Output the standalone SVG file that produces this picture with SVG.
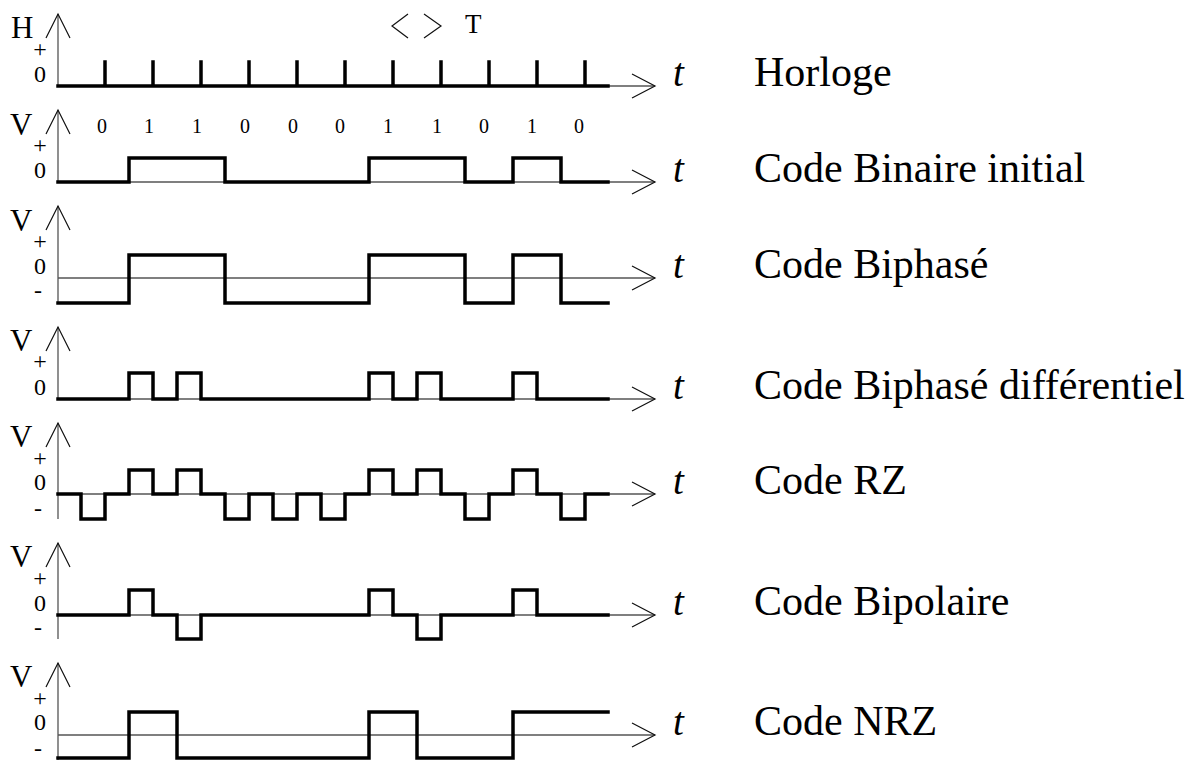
<svg xmlns="http://www.w3.org/2000/svg" width="1194" height="760" viewBox="0 0 1194 760">
  <style>
    .axis { fill: none; stroke: #555; stroke-width: 1.3; }
    .head { fill: none; stroke: #111; stroke-width: 1.2; }
    .sig { fill: none; stroke: #000; stroke-width: 3.5; stroke-linejoin: miter; stroke-linecap: square; }
    .txt { font-family: "Liberation Serif", "Times New Roman", serif; fill: #000; }
    .ax { font-size: 31px; }
    .lvl { font-size: 24px; text-anchor: middle; }
    .bit { font-size: 20px; text-anchor: middle; }
    .tt { font-size: 39px; font-style: italic; }
    .name { font-size: 42px; }
  </style>
  <defs>
    <!-- open chevron heads for the axes -->
    <path id="up" class="head" d="M-12,24 L0,0 L12,24"/>
    <path id="right" class="head" d="M-23,-12 L0,0 L-23,12"/>
  </defs>

  <!-- axes: vertical level axis + horizontal time axis for each trace -->
  <g id="axes">
    <path class="axis" d="M58,14 V86 M58,86 H655"/>
    <use href="#up" x="58" y="14"/><use href="#right" x="655" y="86"/>
    <path class="axis" d="M58,110 V182 M58,182 H655"/>
    <use href="#up" x="58" y="110"/><use href="#right" x="655" y="182"/>
    <path class="axis" d="M58,206 V303 M58,278 H655"/>
    <use href="#up" x="58" y="206"/><use href="#right" x="655" y="278"/>
    <path class="axis" d="M58,327 V399 M58,399 H655"/>
    <use href="#up" x="58" y="327"/><use href="#right" x="655" y="399"/>
    <path class="axis" d="M58,423 V519 M58,494 H655"/>
    <use href="#up" x="58" y="423"/><use href="#right" x="655" y="494"/>
    <path class="axis" d="M58,543 V639 M58,615 H655"/>
    <use href="#up" x="58" y="543"/><use href="#right" x="655" y="615"/>
    <path class="axis" d="M58,663 V760 M58,735 H655"/>
    <use href="#up" x="58" y="663"/><use href="#right" x="655" y="735"/>
  </g>

  <!-- period marker -->
  <g id="period">
    <path class="head" d="M408,14 L392,26 L408,38 M424,14 L441,26 L424,38"/>
    <text class="txt" x="465" y="33" font-size="27">T</text>
  </g>

  <!-- clock -->
  <g id="horloge">
    <text class="txt ax" x="11" y="38">H</text>
    <text class="txt lvl" x="40" y="57">+</text>
    <text class="txt lvl" x="40" y="82">0</text>
    <path class="sig" d="M58,86 H608 M105,86 V62 M153,86 V62 M201,86 V62 M249,86 V62 M297,86 V62 M345,86 V62 M393,86 V62 M441,86 V62 M489,86 V62 M537,86 V62 M585,86 V62"/>
    <text class="txt tt" x="673" y="86">t</text>
    <text class="txt name" x="754" y="86">Horloge</text>
  </g>

  <!-- initial binary code -->
  <g id="binaire">
    <text class="txt ax" x="10" y="135">V</text>
    <g class="txt bit">
      <text x="102" y="133">0</text><text x="149" y="133">1</text><text x="197" y="133">1</text>
      <text x="245" y="133">0</text><text x="293" y="133">0</text><text x="340" y="133">0</text>
      <text x="388" y="133">1</text><text x="437" y="133">1</text><text x="484" y="133">0</text>
      <text x="532" y="133">1</text><text x="579" y="133">0</text>
    </g>
    <text class="txt lvl" x="40" y="153">+</text>
    <text class="txt lvl" x="40" y="178">0</text>
    <path class="sig" d="M58,182 H129 V158 H225 V182 H369 V158 H465 V182 H513 V158 H561 V182 H608"/>
    <text class="txt tt" x="673" y="182">t</text>
    <text class="txt name" x="754" y="182">Code Binaire initial</text>
  </g>

  <!-- biphase -->
  <g id="biphase">
    <text class="txt ax" x="10" y="231">V</text>
    <text class="txt lvl" x="40" y="249">+</text>
    <text class="txt lvl" x="40" y="274">0</text>
    <text class="txt lvl" x="38" y="298">-</text>
    <path class="sig" d="M58,303 H129 V255 H225 V303 H369 V255 H465 V303 H513 V255 H561 V303 H608"/>
    <text class="txt tt" x="673" y="278">t</text>
    <text class="txt name" x="754" y="278">Code Biphasé</text>
  </g>

  <!-- differential biphase -->
  <g id="biphase-diff">
    <text class="txt ax" x="10" y="351">V</text>
    <text class="txt lvl" x="40" y="369">+</text>
    <text class="txt lvl" x="40" y="395">0</text>
    <path class="sig" d="M58,399 H129 V373 H153 V399 H177 V373 H201 V399 H369 V373 H393 V399 H417 V373 H441 V399 H513 V373 H537 V399 H608"/>
    <text class="txt tt" x="673" y="399">t</text>
    <text class="txt name" x="754" y="399">Code Biphasé différentiel</text>
  </g>

  <!-- return to zero -->
  <g id="rz">
    <text class="txt ax" x="10" y="447">V</text>
    <text class="txt lvl" x="40" y="466">+</text>
    <text class="txt lvl" x="40" y="490">0</text>
    <text class="txt lvl" x="38" y="516">-</text>
    <path class="sig" d="M58,494 H81 V519 H105 V494 H129 V470 H153 V494 H177 V470 H201 V494 H225 V519 H249 V494 H273 V519 H297 V494 H321 V519 H345 V494 H369 V470 H393 V494 H417 V470 H441 V494 H465 V519 H489 V494 H513 V470 H537 V494 H561 V519 H585 V494 H608"/>
    <text class="txt tt" x="673" y="494">t</text>
    <text class="txt name" x="754" y="494">Code RZ</text>
  </g>

  <!-- bipolar -->
  <g id="bipolaire">
    <text class="txt ax" x="10" y="567">V</text>
    <text class="txt lvl" x="40" y="586">+</text>
    <text class="txt lvl" x="40" y="611">0</text>
    <text class="txt lvl" x="38" y="635">-</text>
    <path class="sig" d="M58,615 H129 V590 H153 V615 H177 V639 H201 V615 H369 V590 H393 V615 H417 V639 H441 V615 H513 V590 H537 V615 H608"/>
    <text class="txt tt" x="673" y="615">t</text>
    <text class="txt name" x="754" y="615">Code Bipolaire</text>
  </g>

  <!-- non return to zero -->
  <g id="nrz">
    <text class="txt ax" x="10" y="687">V</text>
    <text class="txt lvl" x="40" y="706">+</text>
    <text class="txt lvl" x="40" y="730">0</text>
    <text class="txt lvl" x="38" y="756">-</text>
    <path class="sig" d="M58,758 H129 V712 H177 V758 H369 V712 H417 V758 H513 V712 H608"/>
    <text class="txt tt" x="673" y="735">t</text>
    <text class="txt name" x="754" y="735">Code NRZ</text>
  </g>
</svg>
